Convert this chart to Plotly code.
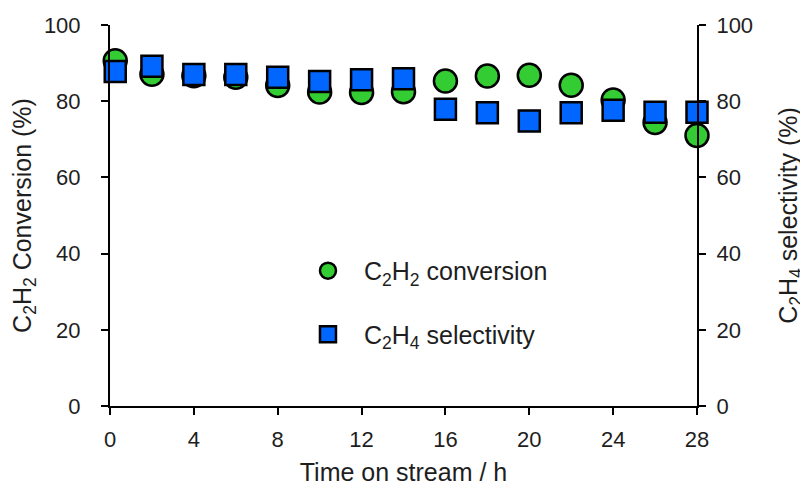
import plotly.graph_objects as go

time_h = [0.25, 2, 4, 6, 8, 10, 12, 14, 16, 18, 20, 22, 24, 26, 28]
conversion = [90.6, 87.1, 86.7, 86.3, 84.1, 82.4, 82.3, 82.5, 85.3, 86.6, 86.8, 84.2, 80.3, 74.4, 71.0]
selectivity = [87.8, 89.2, 87.0, 87.0, 86.3, 85.2, 85.6, 85.9, 77.9, 77.0, 74.8, 77.0, 77.6, 77.1, 77.1]

x_ticks = [0, 4, 8, 12, 16, 20, 24, 28]
y_ticks = [0, 20, 40, 60, 80, 100]

FONT = "Liberation Sans, Arial, sans-serif"
TXT = "#1e1e1e"

fig = go.Figure()
fig.add_trace(go.Scatter(
    x=time_h, y=selectivity, mode="markers", name="C<sub>2</sub>H<sub>4</sub> selectivity",
    marker=dict(symbol="square", size=21, color="#0066FF", line=dict(color="black", width=2.5)),
    yaxis="y2", cliponaxis=False, legendgroup="b", legendrank=2,
))
fig.add_trace(go.Scatter(
    x=time_h, y=conversion, mode="markers", name="C<sub>2</sub>H<sub>2</sub> conversion",
    marker=dict(symbol="circle", size=23, color="#33CC33", line=dict(color="black", width=2.5)),
    cliponaxis=False, legendgroup="a", legendrank=1,
))

axis_common = dict(
    showgrid=False, zeroline=False, showline=True, linecolor="black", linewidth=2,
    ticks="outside", ticklen=7, tickwidth=2, tickcolor="black",
    tickfont=dict(family=FONT, size=22, color=TXT),
    automargin=False,
)
title_font = dict(family=FONT, size=25, color=TXT)

# page body adds an 8px offset, so the figure is sized to fit the 808x486 window
fig.update_layout(
    width=800, height=478,
    margin=dict(l=102, r=111, t=17, b=80, autoexpand=False),
    paper_bgcolor="white", plot_bgcolor="white",
    font=dict(family=FONT, color=TXT),
    xaxis=dict(
        range=[0, 28], tickvals=x_ticks, ticklabelstandoff=6,
        title=dict(text="Time on stream / h", font=title_font, standoff=14),
        **axis_common,
    ),
    yaxis=dict(
        range=[0, 100], tickvals=y_ticks, ticklabelstandoff=16,
        title=dict(text="C<sub>2</sub>H<sub>2</sub> Conversion (%)", font=title_font, standoff=8),
        **axis_common,
    ),
    yaxis2=dict(
        range=[0, 100], tickvals=y_ticks, overlaying="y", side="right", ticklabelstandoff=6,
        title=dict(text="C<sub>2</sub>H<sub>4</sub> selectivity (%)", font=title_font, standoff=27),
        **axis_common,
    ),
    legend=dict(
        x=0.31, y=0.415, xanchor="left", yanchor="top",
        font=dict(family=FONT, size=25, color=TXT),
        bgcolor="rgba(0,0,0,0)", traceorder="grouped", tracegroupgap=28,
        itemwidth=62,
    ),
    showlegend=True,
)

fig.write_html("out.html")
